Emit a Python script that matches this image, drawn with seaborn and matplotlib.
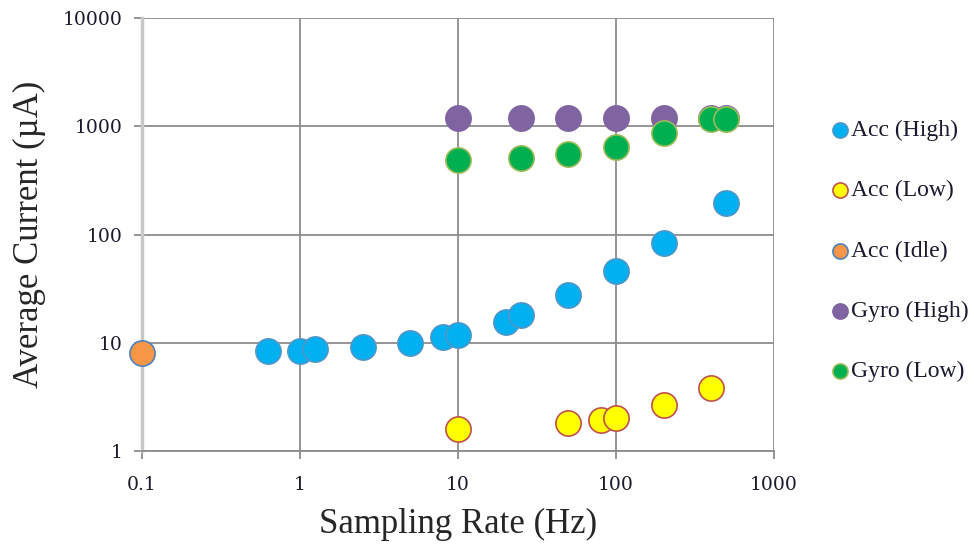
import numpy as np
import pandas as pd
import matplotlib
matplotlib.use("Agg")
import matplotlib.pyplot as plt
import seaborn as sns
from matplotlib.ticker import FixedLocator, FixedFormatter, NullLocator

# ---- data ----
acc_high_x = [0.625, 1, 1.25, 2.5, 5, 8, 10, 20, 25, 50, 100, 200, 500]
acc_high_y = [8.4, 8.4, 8.7, 9.2, 10.0, 11.3, 11.8, 15.6, 18.0, 27.6, 46, 83, 195]
acc_low_x = [10, 50, 80, 100, 200, 400]
acc_low_y = [1.6, 1.8, 1.93, 2.0, 2.66, 3.8]
acc_idle_x = [0.1]
acc_idle_y = [8.0]
gyro_high_x = [10, 25, 50, 100, 200, 400, 500]
gyro_high_y = [1190, 1190, 1190, 1190, 1190, 1190, 1190]
gyro_low_x = [10, 25, 50, 100, 200, 400, 500]
gyro_low_y = [486, 507, 550, 646, 870, 1170, 1170]

series = ["Acc (High)", "Acc (Low)", "Acc (Idle)", "Gyro (High)", "Gyro (Low)"]
xs = [acc_high_x, acc_low_x, acc_idle_x, gyro_high_x, gyro_low_x]
ys = [acc_high_y, acc_low_y, acc_idle_y, gyro_high_y, gyro_low_y]
colors = ["#00B0F0", "#FFFF00", "#F79646", "#8064A2", "#00B050"]
edges = ["#4F97C8", "#C0504D", "#4F81BD", "#8064A2", "#9BBB59"]

x_ticks = [0.1, 1, 10, 100, 1000]
x_labels = ["0.1", "1", "10", "100", "1000"]
y_ticks = [1, 10, 100, 1000, 10000]
y_labels = ["1", "10", "100", "1000", "10000"]

frames = [pd.DataFrame({"rate": x, "current": y, "series": s}) for s, x, y in zip(series, xs, ys)]
df = pd.concat(frames, ignore_index=True)

sns.set_theme(style="white")
plt.rcParams["font.family"] = ["Liberation Serif", "DejaVu Serif"]

fig = plt.figure(figsize=(9.74, 5.47), dpi=100)
ax = fig.add_axes([0.1458, 0.1755, 0.6489, 0.7915])

for s, c, e in zip(series, colors, edges):
    sub = df[df["series"] == s]
    sns.scatterplot(data=sub, x="rate", y="current", ax=ax, color=c,
                    edgecolor=e, linewidth=1.2, s=330, label=s, zorder=3,
                    clip_on=False)

ax.set_xscale("log")
ax.set_yscale("log")
ax.set_xlim(0.1, 1000)
ax.set_ylim(1, 10000)
ax.xaxis.set_major_locator(FixedLocator(x_ticks))
ax.xaxis.set_major_formatter(FixedFormatter(x_labels))
ax.xaxis.set_minor_locator(NullLocator())
ax.yaxis.set_major_locator(FixedLocator(y_ticks))
ax.yaxis.set_major_formatter(FixedFormatter(y_labels))
ax.yaxis.set_minor_locator(NullLocator())

ax.grid(True, which="major", color="#8c8c8c", linewidth=1.3)
for sp in ["top", "right"]:
    ax.spines[sp].set_visible(False)
ax.spines["left"].set_color("#c8c8c8")
ax.spines["left"].set_linewidth(2.5)
ax.spines["bottom"].set_color("#8c8c8c")
ax.spines["bottom"].set_linewidth(1.3)
ax.tick_params(axis="both", labelsize=14, labelcolor="#1a1a2e", length=6, width=1.3,
               color="#8c8c8c")
ax.tick_params(axis="x", bottom=True, pad=12)
ax.tick_params(axis="y", left=True, pad=8)
for lab in ax.get_xticklabels() + ax.get_yticklabels():
    lab.set_family(["DejaVu Serif"])
    lab.set_fontsize(13.5)

ax.set_xlabel("Sampling Rate (Hz)", fontsize=25, labelpad=10)
ax.set_ylabel("Average Current (µA)", fontsize=25, labelpad=12)

leg = ax.legend(loc="center left", bbox_to_anchor=(1.085, 0.462), frameon=False,
                prop={"family": "Liberation Serif", "size": 17}, labelspacing=1.64,
                handletextpad=0.0, handlelength=1.0,
                markerscale=0.6, borderaxespad=0, borderpad=0)
for t in leg.get_texts():
    t.set_color("#1a1a2e")

fig.savefig("out.png", dpi=100)
